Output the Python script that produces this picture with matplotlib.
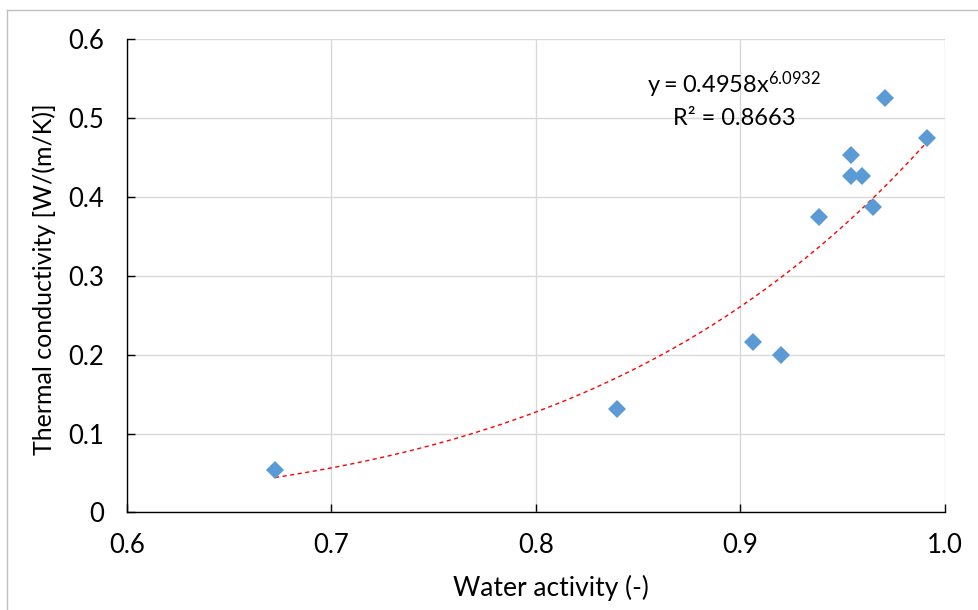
import numpy as np
import matplotlib
matplotlib.use("Agg")
import matplotlib.pyplot as plt
from matplotlib.lines import Line2D
from matplotlib.ticker import FixedLocator, FixedFormatter

plt.rcParams['font.family'] = ['Lato', 'DejaVu Sans']

# measured samples: water activity vs thermal conductivity
water_activity = [0.6725, 0.8396, 0.9060, 0.9198, 0.9384, 0.9540, 0.9540,
                  0.9594, 0.9648, 0.9706, 0.9912]
conductivity = [0.054, 0.131, 0.216, 0.200, 0.375, 0.453, 0.427,
                0.427, 0.387, 0.525, 0.475]

# power-law trendline y = a * x^b
fit_a = 0.4958
fit_b = 6.0932
fit_r2 = 0.8663

x_ticks = [0.6, 0.7, 0.8, 0.9, 1.0]
x_tick_labels = ['0.6', '0.7', '0.8', '0.9', '1.0']
y_ticks = [0, 0.1, 0.2, 0.3, 0.4, 0.5, 0.6]
y_tick_labels = ['0', '0.1', '0.2', '0.3', '0.4', '0.5', '0.6']

W, H = 979, 610
fig = plt.figure(figsize=(W / 100, H / 100), dpi=100)
ax = fig.add_axes([126.7 / W, 1 - 512.4 / H, (945 - 126.7) / W, (512.4 - 39.3) / H])

ax.set_xlim(0.6, 1.0)
ax.set_ylim(0, 0.6)
ax.xaxis.set_major_locator(FixedLocator(x_ticks))
ax.xaxis.set_major_formatter(FixedFormatter(x_tick_labels))
ax.yaxis.set_major_locator(FixedLocator(y_ticks))
ax.yaxis.set_major_formatter(FixedFormatter(y_tick_labels))

ax.grid(True, color='#d9d9d9', linewidth=1.0)
ax.set_axisbelow(True)
for side in ('top', 'right'):
    ax.spines[side].set_visible(False)
for side in ('left', 'bottom'):
    ax.spines[side].set_color('black')
    ax.spines[side].set_linewidth(1.0)
ax.tick_params(direction='in', length=6, width=1.0, labelsize=18.5, colors='black')
ax.tick_params(axis='x', pad=15)
ax.tick_params(axis='y', pad=16)

# trendline over the measured range
xs = np.linspace(min(water_activity), max(water_activity), 200)
ax.plot(xs, fit_a * xs ** fit_b, color='#ff0000', linewidth=1.0,
        linestyle=(0, (3, 2.5)), zorder=2)

ax.plot(water_activity, conductivity, linestyle='none', marker='D',
        markersize=9.5, color='#5b9bd5', markeredgewidth=0, zorder=3)

ax.text(0.8968, 0.532, r'$\mathregular{y = %.4fx^{%.4f}}$' % (fit_a, fit_b),
        fontsize=17, ha='center', va='baseline')
ax.text(0.8968, 0.4914, 'R² = %.4f' % fit_r2,
        fontsize=17, ha='center', va='baseline')

ax.set_xlabel('Water activity (-)', fontsize=19)
ax.xaxis.label.set_verticalalignment('baseline')
ax.xaxis.set_label_coords(0.5185, -0.1767)
ax.set_ylabel('Thermal conductivity [W/(m/K)]', fontsize=18)
ax.yaxis.set_label_coords(-0.0864, 0.492)

# chart area border (left and top edges)
fig.add_artist(Line2D([7 / W, 7 / W], [0, 1 - 10 / H], transform=fig.transFigure,
                      color='#bfbfbf', linewidth=1.0))
fig.add_artist(Line2D([7 / W, 1], [1 - 10 / H, 1 - 10 / H], transform=fig.transFigure,
                      color='#bfbfbf', linewidth=1.0))

fig.savefig('out.png', dpi=100)
